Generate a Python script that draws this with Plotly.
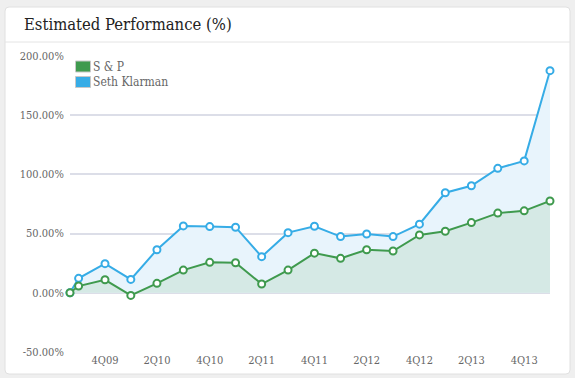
import plotly.graph_objects as go

dates = ["2009-08-31", "2009-09-30", "2009-12-31", "2010-03-31", "2010-06-30",
         "2010-09-30", "2010-12-31", "2011-03-31", "2011-06-30", "2011-09-30",
         "2011-12-31", "2012-03-31", "2012-06-30", "2012-09-30", "2012-12-31",
         "2013-03-31", "2013-06-30", "2013-09-30", "2013-12-31", "2014-03-31"]
klarman = [0, 12.2, 24.6, 11.3, 36.4, 56.5, 55.9, 55.4, 30.5, 50.8,
           56.2, 47.5, 49.7, 47.5, 58.0, 84.5, 90.4, 105.1, 111.4, 187.6]
snp = [0, 5.7, 11.0, -2.2, 8.0, 19.2, 25.7, 25.4, 7.4, 19.2,
       33.5, 29.1, 36.4, 35.3, 48.9, 52.0, 59.3, 67.3, 69.2, 77.5]
tick_dates = ["2009-12-31", "2010-06-30", "2010-12-31", "2011-06-30", "2011-12-31",
              "2012-06-30", "2012-12-31", "2013-06-30", "2013-12-31"]
tick_labels = ["4Q09", "2Q10", "4Q10", "2Q11", "4Q11", "2Q12", "4Q12", "2Q13", "4Q13"]
y_ticks = [-50, 0, 50, 100, 150, 200]
y_labels = ["-50.00%", "0.00%", "50.00%", "100.00%", "150.00%", "200.00%"]
series_names = ["S & P", "Seth Klarman"]

BLUE = "#36ace6"
GREEN = "#3f9a4e"
FONT = "DejaVu Serif Condensed, DejaVu Serif, serif"

fig = go.Figure()
fig.add_trace(go.Scatter(
    x=dates, y=klarman, name=series_names[1], mode="lines+markers",
    line=dict(color=BLUE, width=2),
    marker=dict(size=7, color="white", line=dict(color=BLUE, width=2)),
    fill="tozeroy", fillcolor="#e8f4fc", showlegend=False, cliponaxis=False))
fig.add_trace(go.Scatter(
    x=dates, y=snp, name=series_names[0], mode="lines+markers",
    line=dict(color=GREEN, width=2),
    marker=dict(size=7, color="white", line=dict(color=GREEN, width=2)),
    fill="tozeroy", fillcolor="#d5e9e5", showlegend=False, cliponaxis=False))

# card geometry in paper coords (plot area 70..550 x, 56..352 y)
pw, ph = 480.0, 296.0
def px(x):
    return (x - 70) / pw
def py(y):
    return (352 - y) / ph
x0, x1, y0, y1 = px(5), px(570), py(374), py(7)
rx, ry = 4 / pw, 4 / ph
card = (f"M {x0+rx},{y1} L {x1-rx},{y1} Q {x1},{y1} {x1},{y1-ry} "
        f"L {x1},{y0+ry} Q {x1},{y0} {x1-rx},{y0} L {x0+rx},{y0} "
        f"Q {x0},{y0} {x0},{y0+ry} L {x0},{y1-ry} Q {x0},{y1} {x0+rx},{y1} Z")

shapes = [
    dict(type="path", xref="paper", yref="paper", path=card,
         fillcolor="white", line=dict(color="#e0e0e0", width=1), layer="below"),
    dict(type="line", xref="paper", yref="paper", x0=px(5), x1=px(570),
         y0=py(42), y1=py(42), line=dict(color="#e4e4e4", width=1), layer="below"),
]
annotations = [dict(text="Estimated Performance (%)", xref="paper", yref="paper",
                    x=px(22), y=py(25), xanchor="left", yanchor="middle",
                    showarrow=False, font=dict(size=16.5, color="#222222", family=FONT))]
# legend (swatches + labels)
for i, (name, col) in enumerate(zip(series_names, [GREEN, BLUE])):
    cy = 66.5 + i * 15.5
    shapes.append(dict(type="rect", xref="paper", yref="paper",
                       x0=px(75.5), x1=px(90.5), y0=py(cy + 5.5), y1=py(cy - 5.5),
                       fillcolor=col, line=dict(color="#c8c8c8", width=1), layer="above"))
    annotations.append(dict(text=name, xref="paper", yref="paper",
                            x=px(91), y=py(cy), xanchor="left", yanchor="middle",
                            showarrow=False, font=dict(size=12, color="#666666", family=FONT)))

fig.update_layout(
    width=575, height=378,
    margin=dict(l=70, r=25, t=56, b=26),
    paper_bgcolor="#efefef", plot_bgcolor="rgba(0,0,0,0)",
    font=dict(family=FONT, color="#666666", size=11),
    showlegend=False,
    shapes=shapes,
    annotations=annotations,
)
fig.update_xaxes(type="date", range=[dates[0], dates[-1]], automargin=False,
                 tickvals=tick_dates, ticktext=tick_labels,
                 showgrid=False, zeroline=False, showline=False, ticks="",
                 tickfont=dict(size=11, color="#666666"))
fig.update_yaxes(range=[-50, 200], tickvals=y_ticks, ticktext=y_labels, automargin=False,
                 gridcolor="#dcdee8", gridwidth=2, zeroline=False, showline=False,
                 ticks="outside", ticklen=3, tickcolor="rgba(0,0,0,0)",
                 tickfont=dict(size=11, color="#666666"))

fig.write_html("out.html", config={"displayModeBar": False},
               post_script="document.body.style.margin='0';")
